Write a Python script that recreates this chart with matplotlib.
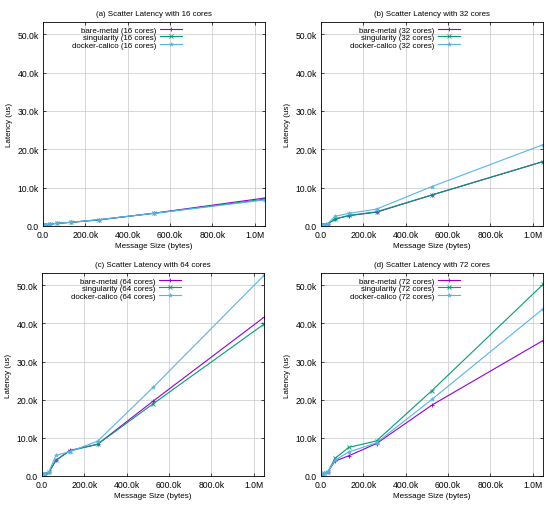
import matplotlib.pyplot as plt
from matplotlib.ticker import FuncFormatter

# ==========================================
# DATA (latency in us, message sizes in bytes)
# ==========================================

sizes = [1, 2, 4, 8, 16, 32, 64, 128, 256, 512, 1024, 2048, 4096, 8192,
         16384, 32768, 65536, 131072, 262144, 524288, 1048576]

bare_16 = [20, 20, 21, 22, 23, 25, 28, 32, 40, 55, 80, 120, 170, 220,
           300, 450, 700, 950, 1600, 3350, 7300]
sing_16 = [21, 21, 22, 23, 24, 26, 29, 33, 41, 56, 82, 122, 172, 225,
           310, 460, 700, 950, 1600, 3300, 7000]
dock_16 = [30, 30, 31, 32, 33, 35, 38, 42, 50, 65, 90, 130, 180, 240,
           330, 480, 720, 980, 1650, 3300, 6800]

bare_32 = [40, 40, 41, 42, 44, 46, 50, 55, 65, 80, 110, 150, 210, 280,
           350, 600, 1800, 2700, 3600, 8100, 16800]
sing_32 = [41, 41, 42, 43, 45, 47, 51, 56, 66, 81, 112, 152, 212, 285,
           360, 610, 1800, 2750, 3700, 8100, 16800]
dock_32 = [60, 60, 61, 62, 64, 66, 70, 75, 85, 100, 130, 170, 230, 300,
           380, 650, 2500, 3300, 4400, 10300, 21200]

bare_64 = [80, 80, 82, 84, 86, 90, 95, 100, 115, 140, 180, 240, 320, 420,
           600, 1000, 4100, 6700, 8300, 19600, 41600]
sing_64 = [82, 82, 84, 86, 88, 92, 97, 102, 118, 142, 182, 245, 325, 430,
           620, 1000, 4100, 6600, 8300, 18900, 39800]
dock_64 = [120, 120, 122, 124, 126, 130, 135, 140, 155, 180, 220, 280, 360, 460,
           650, 1100, 5400, 6400, 9100, 23200, 52600]

bare_72 = [90, 90, 92, 94, 96, 100, 105, 110, 125, 150, 190, 250, 330, 450,
           750, 1100, 3900, 5300, 8500, 18600, 35500]
sing_72 = [92, 92, 94, 96, 98, 102, 107, 112, 128, 152, 192, 255, 335, 460,
           800, 1100, 4600, 7500, 9200, 22400, 50200]
dock_72 = [130, 130, 132, 134, 136, 140, 145, 150, 165, 190, 230, 290, 370, 490,
           800, 1150, 4100, 6300, 8700, 20100, 43800]

panels = [
    ("(a) Scatter Latency with 16 cores", 16, bare_16, sing_16, dock_16),
    ("(b) Scatter Latency with 32 cores", 32, bare_32, sing_32, dock_32),
    ("(c) Scatter Latency with 64 cores", 64, bare_64, sing_64, dock_64),
    ("(d) Scatter Latency with 72 cores", 72, bare_72, sing_72, dock_72),
]

# ==========================================
# PLOT
# ==========================================

plt.rcParams["font.family"] = "Liberation Sans"

def kfmt(v, pos):
    if v >= 1e6:
        return "%.1fM" % (v / 1e6)
    return "%.1fk" % (v / 1e3) if v > 0 else "0.0"

fig = plt.figure(figsize=(5.5, 5.06), dpi=100)
W, H = 550, 506
boxes = [(43, 23, 265, 227), (321, 23, 543, 227),
         (42, 274, 264, 477), (321, 274, 543, 477)]

for (title, cores, bare, sing, dock), (x0, y0, x1, y1) in zip(panels, boxes):
    ax = fig.add_axes([x0 / W, 1 - y1 / H, (x1 - x0) / W, (y1 - y0) / H])
    ax.plot(sizes, bare, color="#9400d3", lw=0.8, marker="+", ms=3, mew=0.6,
            label="bare-metal (%d cores)" % cores)
    ax.plot(sizes, sing, color="#009e73", lw=0.8, marker="x", ms=2.5, mew=0.6,
            label="singularity (%d cores)" % cores)
    ax.plot(sizes, dock, color="#56b4e9", lw=0.8, marker="*", ms=3, mew=0.4,
            label="docker-calico (%d cores)" % cores)
    ax.set_xlim(0, 1048576)
    ax.set_ylim(0, 53200)
    ax.set_xticks([0, 200000, 400000, 600000, 800000, 1000000])
    ax.set_yticks([0, 10000, 20000, 30000, 40000, 50000])
    ax.xaxis.set_major_formatter(FuncFormatter(kfmt))
    ax.yaxis.set_major_formatter(FuncFormatter(kfmt))
    ax.tick_params(labelsize=6.2, length=2, width=0.5, pad=3, direction="in",
                   top=True, right=True)
    ax.grid(True, color="#c8c8c8", lw=0.5)
    for s in ax.spines.values():
        s.set_linewidth(0.6)
    ax.set_title(title, fontsize=5.7, pad=5)
    ax.set_xlabel("Message Size (bytes)", fontsize=5.8, labelpad=2)
    ax.set_ylabel("Latency (us)", fontsize=5.8, labelpad=3)
    leg = ax.legend(loc="upper right", fontsize=5.7, frameon=False,
                    markerfirst=False, handlelength=2.8, borderpad=0.2,
                    labelspacing=0.0, handletextpad=0.5, borderaxespad=0.3,
                    bbox_to_anchor=(0.645, 1.0))
    for t in leg.get_texts():
        t.set_ha("right")

plt.savefig("out.png", dpi=100)
plt.close()
